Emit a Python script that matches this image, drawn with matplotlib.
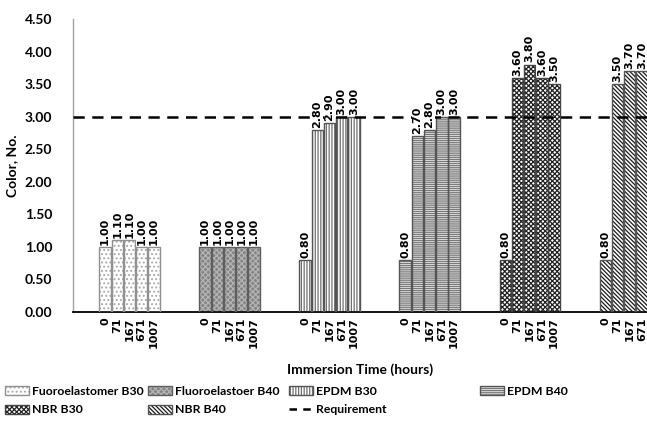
import matplotlib
matplotlib.use("Agg")
import matplotlib.pyplot as plt
from matplotlib.patches import Patch
from matplotlib.lines import Line2D
import numpy as np

plt.rcParams['hatch.linewidth'] = 0.9

times = ["0", "71", "167", "671", "1007"]
materials = ["Fuoroelastomer B30", "Fluoroelastoer B40", "EPDM B30",
             "EPDM B40", "NBR B30", "NBR B40"]
fluoro_b30 = [1.00, 1.10, 1.10, 1.00, 1.00]
fluoro_b40 = [1.00, 1.00, 1.00, 1.00, 1.00]
epdm_b30 = [0.80, 2.80, 2.90, 3.00, 3.00]
epdm_b40 = [0.80, 2.70, 2.80, 3.00, 3.00]
nbr_b30 = [0.80, 3.60, 3.80, 3.60, 3.50]
nbr_b40 = [0.80, 3.50, 3.70, 3.70, 3.70]
requirement = 3.00

series = [fluoro_b30, fluoro_b40, epdm_b30, epdm_b40, nbr_b30, nbr_b40]

# face, hatch colour, hatch, outline for each material
styles = [
    ("white", "#a8a8a8", "....", "#909090"),
    ("#848484", "#b4b4b4", "xxxxxx", "#5e5e5e"),
    ("white", "#707070", "||||||", "#555555"),
    ("#e8e8e8", "#7a7a7a", "--------", "#555555"),
    ("white", "#222222", "xxxxxxx", "#444444"),
    ("white", "#1a1a1a", "\\" * 8, "#555555"),
]

calibri = "Lato"
step = 8.2
width = 0.94

fig = plt.figure(figsize=(6.47, 4.23), dpi=100)
ax = fig.add_axes([73 / 647, 1 - 312 / 423, 1 - 73 / 647, 293 / 423])

xpos = []
xlab = []
handles = []
for g, vals in enumerate(series):
    face, hcol, hatch, edge = styles[g]
    x = g * step + np.arange(len(vals))
    ax.bar(x, vals, width=width, color=face, edgecolor=hcol, hatch=hatch,
           linewidth=0, zorder=2)
    ax.bar(x, vals, width=width, fill=False, edgecolor=edge, linewidth=1.0,
           zorder=3)
    for xi, v in zip(x, vals):
        ax.annotate(f"{v:.2f}", (xi, v), xytext=(0, 1.5), textcoords="offset points",
                    rotation=90, ha="center", va="bottom", fontsize=8,
                    fontweight="bold", family="DejaVu Sans", zorder=5,
                    annotation_clip=True,
                    bbox=dict(facecolor="white", edgecolor="none", pad=0.3))
    xpos.extend(x)
    xlab.extend(times)
    handles.append((Patch(facecolor=face, edgecolor=hcol, hatch=hatch, linewidth=0),
                    Patch(fill=False, edgecolor=edge, linewidth=1.0)))

ax.axhline(requirement, color="black", linestyle=(0, (4.5, 3)), linewidth=1.8,
           zorder=4)
req_handle = Line2D([], [], color="black", linestyle=(0, (3, 2.5)), linewidth=1.8)

ax.set_yticks(np.arange(0, 4.51, 0.5))
ax.set_yticklabels([f"{t:.2f}" for t in np.arange(0, 4.51, 0.5)],
                   fontsize=10, fontweight="bold", family=calibri)
ax.set_xticks(xpos)
ax.set_xticklabels(xlab, rotation=90, fontsize=8, fontweight="bold",
                   family="DejaVu Sans")
ax.set_xlim(-2.63, 44.42)
ax.set_ylim(0, 4.5)
ax.tick_params(axis="y", length=0, pad=15)
ax.tick_params(axis="x", length=0, pad=4)

for s in ["top", "right"]:
    ax.spines[s].set_visible(False)
ax.spines["left"].set_color("#a0a0a0")
ax.spines["left"].set_linewidth(1.0)
ax.spines["bottom"].set_color("black")
ax.spines["bottom"].set_linewidth(1.3)

ax.set_ylabel("Color, No.", fontsize=10, fontweight="bold", family=calibri)
ax.yaxis.set_label_coords((18 - 73) / 574, 0.5)
fig.text(360 / 647, 1 - 370 / 423, "Immersion Time (hours)", ha="center",
         va="center", fontsize=10, fontweight="bold", family=calibri)

# legend, one block per column
cols = [
    (5, [handles[0], handles[4]], [materials[0], materials[4]]),
    (148, [handles[1], handles[5]], [materials[1], materials[5]]),
    (289, [handles[2], req_handle], [materials[2], "Requirement"]),
    (480, [handles[3]], [materials[3]]),
]
for xl, hs, ls in cols:
    fig.legend(hs, ls, loc="upper left", bbox_to_anchor=(xl / 647, 1 - 386 / 423),
               frameon=False, borderpad=0, borderaxespad=0, handlelength=2.0,
               handleheight=0.75, handletextpad=0.2, labelspacing=0.6,
               prop=dict(family=calibri, weight="bold", size=8.8))

fig.savefig("out.png", dpi=100)
